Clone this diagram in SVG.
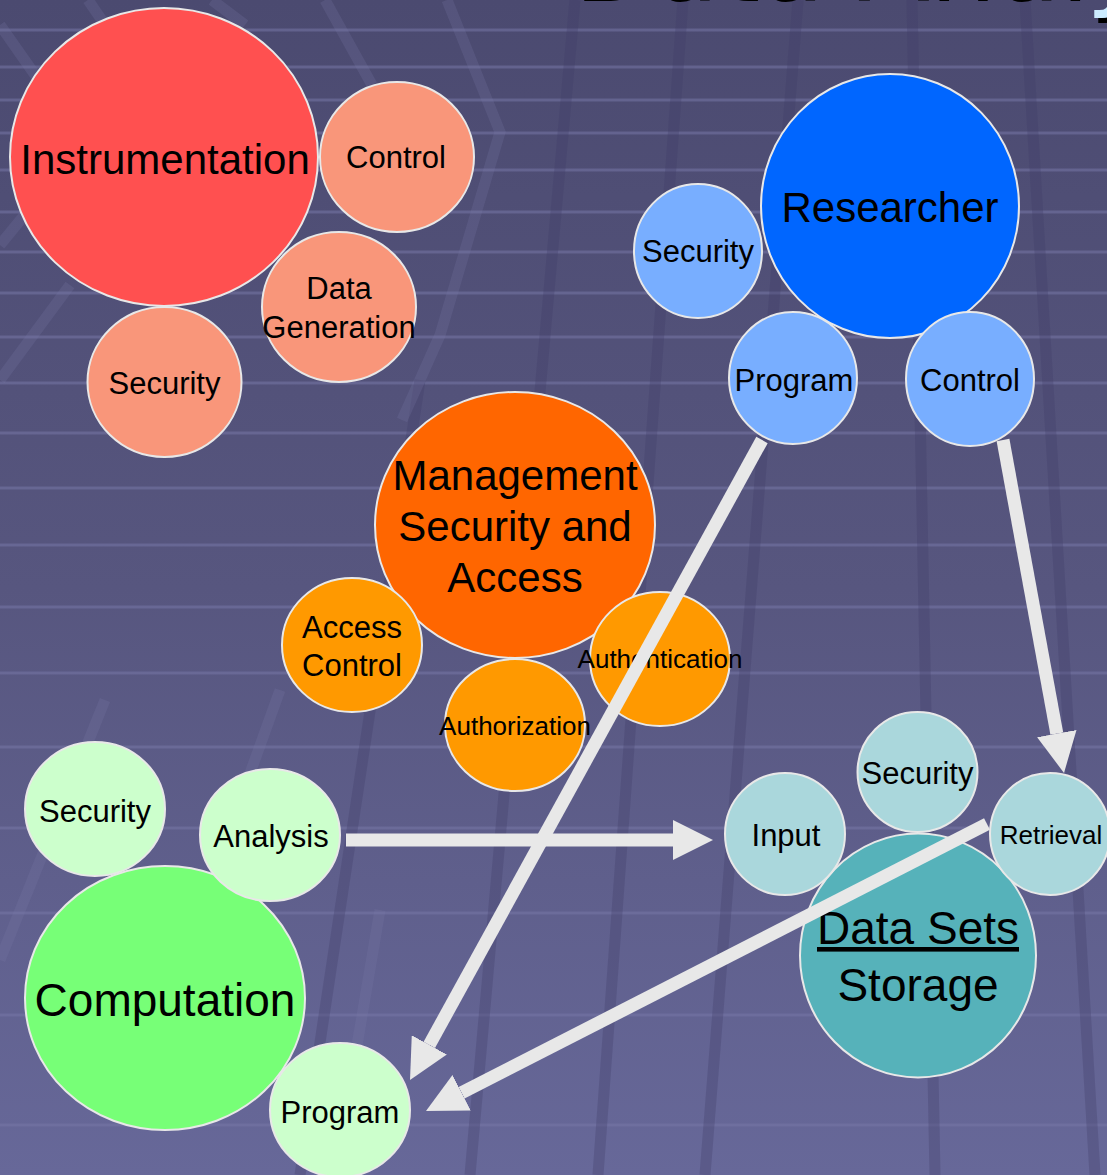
<svg xmlns="http://www.w3.org/2000/svg" width="1107" height="1175" viewBox="0 0 1107 1175">
<defs>
<linearGradient id="bg" x1="0" y1="0" x2="0" y2="1">
<stop offset="0" stop-color="#4B4A70"/>
<stop offset="0.5" stop-color="#57567F"/>
<stop offset="1" stop-color="#676899"/>
</linearGradient>
<filter id="shadow" x="-5%" y="-20%" width="110%" height="160%">
<feDropShadow dx="4" dy="5" stdDeviation="0.5" flood-color="#000" flood-opacity="1"/>
</filter>
<marker id="head" markerUnits="userSpaceOnUse" viewBox="0 0 40 40" refX="0" refY="20" markerWidth="40" markerHeight="40" orient="auto">
<path d="M0,0 L40,20 L0,40 Z" fill="#E8E8E8"/>
</marker>
<style>
.hl{stroke:#7676A6;stroke-width:3;stroke-opacity:0.55}
.vb{stroke:#3E3D66;stroke-width:11;stroke-opacity:0.3;fill:none}
.db{stroke:#7A7AAA;stroke-width:11;stroke-opacity:0.22;fill:none}
.n ellipse{stroke:#E8E8E8;stroke-width:2}
.n text{font-family:"Liberation Sans",Arial,sans-serif;fill:#000;text-anchor:middle}
.big{font-size:42px}
.huge{font-size:46px}
.mid{font-size:31px}
.sm{font-size:26px}
.c-inst{fill:#FF5050}
.c-inst2{fill:#F9967A}
.c-res{fill:#0066FF}
.c-res2{fill:#78AEFF}
.c-mgmt{fill:#FF6600}
.c-mgmt2{fill:#FF9900}
.c-comp{fill:#77FF77}
.c-comp2{fill:#CCFFCC}
.c-ds{fill:#56B2BA}
.c-ds2{fill:#AAD7DC}
.arrow{stroke:#E8E8E8;stroke-width:13;fill:none;marker-end:url(#head)}
</style>
</defs>
<g id="background">
<rect x="0" y="0" width="1107" height="1175" fill="url(#bg)"/>
<g>
<line class="hl" x1="0" y1="30" x2="1107" y2="30"/>
<line class="hl" x1="0" y1="67" x2="1107" y2="67"/>
<line class="hl" x1="0" y1="100" x2="1107" y2="100"/>
<line class="hl" x1="0" y1="133" x2="1107" y2="133"/>
<line class="hl" x1="0" y1="170" x2="1107" y2="170"/>
<line class="hl" x1="0" y1="212" x2="1107" y2="212"/>
<line class="hl" x1="0" y1="252" x2="1107" y2="252"/>
<line class="hl" x1="0" y1="293" x2="1107" y2="293"/>
<line class="hl" x1="0" y1="337" x2="1107" y2="337"/>
<line class="hl" x1="0" y1="383" x2="1107" y2="383"/>
<line class="hl" x1="0" y1="433" x2="1107" y2="433"/>
<line class="hl" x1="0" y1="488" x2="1107" y2="488"/>
<line class="hl" x1="0" y1="545" x2="1107" y2="545"/>
<line class="hl" x1="0" y1="607" x2="1107" y2="607"/>
<line class="hl" x1="0" y1="673" x2="1107" y2="673"/>
<line class="hl" x1="0" y1="747" x2="1107" y2="747"/>
<line class="hl" x1="0" y1="828" x2="1107" y2="828"/>
<line class="hl" x1="0" y1="913" x2="1107" y2="913"/>
<line class="hl" x1="0" y1="1015" x2="1107" y2="1015"/>
<line class="hl" x1="0" y1="1125" x2="1107" y2="1125"/>
</g>
<g>
<line class="vb" x1="683" y1="0" x2="598" y2="1175"/>
<line class="vb" x1="798" y1="0" x2="705" y2="1175"/>
<line class="vb" x1="912" y1="0" x2="935" y2="1175"/>
<line class="vb" x1="1025" y1="0" x2="1095" y2="1175"/>
<line class="vb" x1="575" y1="0" x2="470" y2="1175"/>
<line class="vb" x1="420" y1="380" x2="300" y2="1175"/>
</g>
<g>
<polyline class="db" points="0,25 40,82"/>
<polyline class="db" points="88,0 110,32"/>
<polyline class="db" points="212,0 245,25"/>
<polyline class="db" points="325,0 372,85"/>
<polyline class="db" points="447,0 500,132 440,335 402,420"/>
<polyline class="db" points="45,190 0,245"/>
<polyline class="db" points="70,285 0,380"/>
<polyline class="db" points="105,700 0,960"/>
<polyline class="db" points="280,690 190,940"/>
<polyline class="db" points="380,910 335,1175"/>
</g>
<text x="570" y="-4" fill="#CCECFF" filter="url(#shadow)" font-family="'DejaVu Sans',Verdana,sans-serif" font-size="105">Data Analysis</text>
</g>
<g id="instrumentation-cluster">
<g id="instrumentation" class="n"><ellipse class="c-inst" cx="164" cy="157" rx="154" ry="149"/><text class="big" x="165" y="174">Instrumentation</text></g>
<g id="inst-control" class="n"><ellipse class="c-inst2" cx="397" cy="157" rx="77" ry="75"/><text class="mid" x="396" y="168">Control</text></g>
<g id="inst-data-generation" class="n"><ellipse class="c-inst2" cx="339" cy="307" rx="77" ry="75"/><text class="mid" x="339" y="299">Data</text><text class="mid" x="339" y="338">Generation</text></g>
<g id="inst-security" class="n"><ellipse class="c-inst2" cx="164.5" cy="382" rx="77" ry="75"/><text class="mid" x="164.5" y="394">Security</text></g>
</g>
<g id="researcher-cluster">
<g id="researcher" class="n"><ellipse class="c-res" cx="890" cy="206" rx="129" ry="132"/><text class="big" x="890" y="222">Researcher</text></g>
<g id="res-security" class="n"><ellipse class="c-res2" cx="698" cy="251" rx="64" ry="67"/><text class="mid" x="698" y="262">Security</text></g>
<g id="res-program" class="n"><ellipse class="c-res2" cx="793" cy="378" rx="64" ry="66"/><text class="mid" x="794" y="391">Program</text></g>
<g id="res-control" class="n"><ellipse class="c-res2" cx="970" cy="379" rx="64" ry="67"/><text class="mid" x="970" y="391">Control</text></g>
</g>
<g id="management-cluster">
<g id="management" class="n"><ellipse class="c-mgmt" cx="515" cy="525" rx="140" ry="133"/><text class="big" x="515" y="490">Management</text><text class="big" x="515" y="541">Security and</text><text class="big" x="515" y="592">Access</text></g>
<g id="access-control" class="n"><ellipse class="c-mgmt2" cx="352" cy="645" rx="70" ry="67"/><text class="mid" x="352" y="638">Access</text><text class="mid" x="352" y="676">Control</text></g>
<g id="authorization" class="n"><ellipse class="c-mgmt2" cx="515" cy="725" rx="70" ry="66"/><text class="sm" x="515" y="735">Authorization</text></g>
<g id="authentication" class="n"><ellipse class="c-mgmt2" cx="660" cy="659" rx="70" ry="67"/><text class="sm" x="660" y="668">Authentication</text></g>
</g>
<g id="computation-cluster">
<g id="computation" class="n"><ellipse class="c-comp" cx="165" cy="998" rx="140" ry="132"/><text class="huge" x="165" y="1016">Computation</text></g>
<g id="comp-security" class="n"><ellipse class="c-comp2" cx="95" cy="809" rx="70" ry="67"/><text class="mid" x="95" y="822">Security</text></g>
<g id="comp-analysis" class="n"><ellipse class="c-comp2" cx="270" cy="835" rx="70" ry="66"/><text class="mid" x="271" y="847">Analysis</text></g>
<g id="comp-program" class="n"><ellipse class="c-comp2" cx="340" cy="1110" rx="70" ry="67"/><text class="mid" x="340" y="1123">Program</text></g>
</g>
<g id="datasets-cluster">
<g id="datasets-storage" class="n"><ellipse class="c-ds" cx="918" cy="955.5" rx="118" ry="122"/><text class="huge" x="918" y="944" text-decoration="underline">Data Sets</text><text class="huge" x="918" y="1001">Storage</text></g>
<g id="ds-security" class="n"><ellipse class="c-ds2" cx="917.5" cy="772" rx="60" ry="60"/><text class="mid" x="917.5" y="784">Security</text></g>
<g id="ds-input" class="n"><ellipse class="c-ds2" cx="785" cy="834" rx="60" ry="61"/><text class="mid" x="786" y="846">Input</text></g>
<g id="ds-retrieval" class="n"><ellipse class="c-ds2" cx="1050" cy="834" rx="60" ry="61"/><text class="sm" x="1051" y="844">Retrieval</text></g>
</g>
<g id="connectors">
<line class="arrow" x1="762" y1="440" x2="429.3" y2="1044.9"/>
<line class="arrow" x1="1003" y1="440" x2="1056.8" y2="733.6"/>
<line class="arrow" x1="987" y1="824" x2="461.6" y2="1092.8"/>
<line class="arrow" x1="346" y1="840" x2="673" y2="840"/>
</g>
</svg>
